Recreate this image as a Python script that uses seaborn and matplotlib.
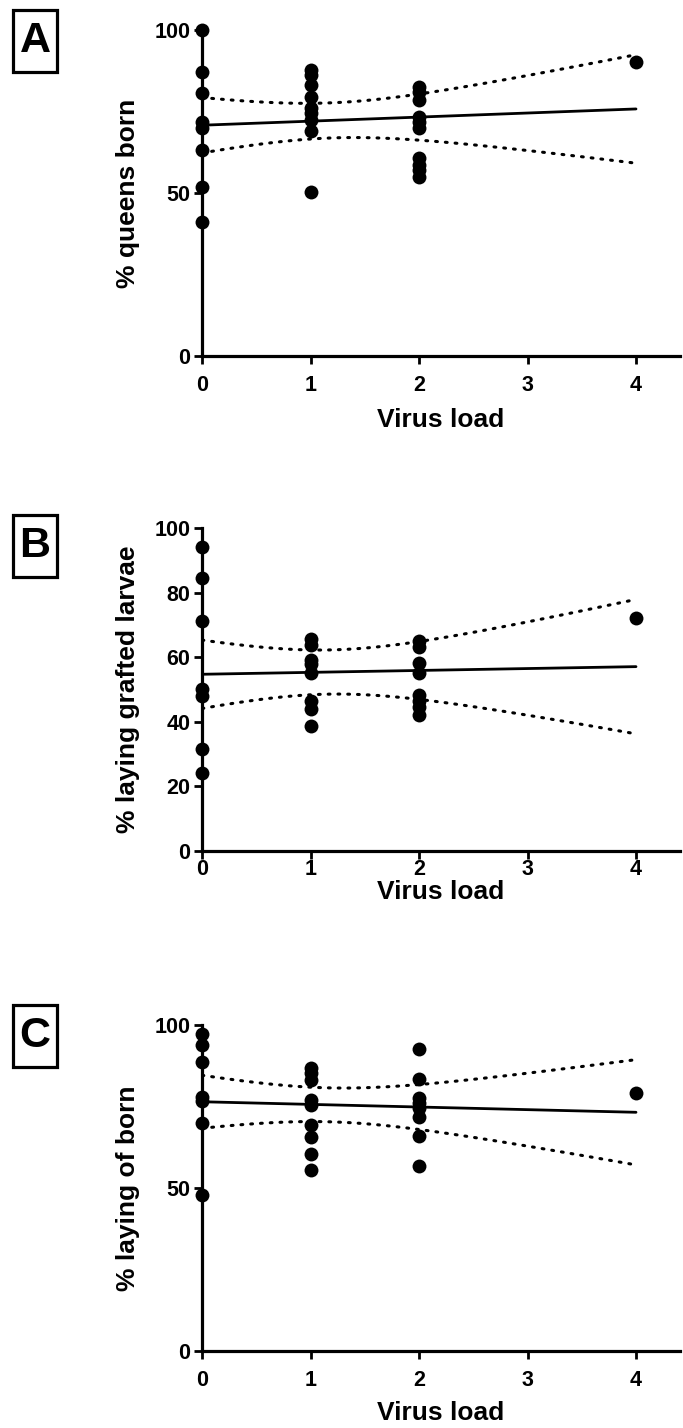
import numpy as np
import pandas as pd
import seaborn as sns
import matplotlib.pyplot as plt
from matplotlib.patches import Rectangle

sns.set_theme(style="ticks")
plt.rcParams['font.family'] = ['Liberation Sans', 'DejaVu Sans']
plt.rcParams['font.weight'] = 'bold'

# Panel A - % queens born
a_x = [0]*8 + [1]*9 + [2]*10 + [4]
a_y = [100, 87.0, 80.6, 71.9, 69.9, 63.2, 51.9, 41.2,
       87.7, 86.2, 83.0, 79.4, 76.1, 74.5, 72.4, 69.0, 50.3,
       82.6, 81.1, 78.5, 73.4, 71.9, 69.9, 60.6, 58.6, 57.1, 55.0,
       90.3]

# Panel B - % laying grafted larvae
b_x = [0]*7 + [1]*8 + [2]*8 + [4]
b_y = [94.0, 84.5, 71.3, 50.2, 47.9, 31.6, 24.3,
       65.6, 63.9, 59.0, 58.0, 55.1, 46.5, 44.0, 38.8,
       64.9, 63.3, 58.2, 55.1, 48.4, 46.5, 44.5, 42.0,
       72.1]

# Panel C - % laying of born
c_x = [0]*7 + [1]*9 + [2]*8 + [4]
c_y = [97.1, 94.0, 88.8, 77.8, 76.6, 70.0, 47.9,
       86.7, 85.2, 83.1, 77.0, 75.5, 69.3, 65.7, 60.4, 55.5,
       92.6, 83.3, 77.5, 76.0, 74.4, 71.9, 65.9, 56.8,
       79.0]

# letter, x, y, y label, y ticks, top px, bottom px, box top px, tick pad, label pad
panels = [
    ("A", a_x, a_y, "% queens born", [0, 50, 100], 30, 356, 10, 8, 8.5),
    ("B", b_x, b_y, "% laying grafted larvae", [0, 20, 40, 60, 80, 100], 528, 851, 515, 0.5, 0),
    ("C", c_x, c_y, "% laying of born", [0, 50, 100], 1025, 1351, 1005, 8, 7.5),
]

# two-sided 95% t quantiles for df = n - 2
t_crit = {26: 2.056, 22: 2.074, 23: 2.069}

W, H = 683, 1428
fig = plt.figure(figsize=(W / 100, H / 100), dpi=100)

left, right = 202, 680
for letter, xs, ys, ylab, yticks, top, bot, box_top, tpad, lpad in panels:
    ax = fig.add_axes([left / W, 1 - bot / H, (right - left) / W, (bot - top) / H])
    df = pd.DataFrame({"x": xs, "y": ys})

    # linear regression with 95% confidence band
    x = np.array(xs, float)
    y = np.array(ys, float)
    n = len(x)
    slope, icpt = np.polyfit(x, y, 1)
    resid = y - (icpt + slope * x)
    s = np.sqrt((resid ** 2).sum() / (n - 2))
    sxx = ((x - x.mean()) ** 2).sum()
    grid = np.linspace(0, 4, 81)
    fit = icpt + slope * grid
    half = t_crit[n - 2] * s * np.sqrt(1 / n + (grid - x.mean()) ** 2 / sxx)

    sns.lineplot(x=grid, y=fit, ax=ax, color="black", lw=2.0)
    for band in (fit + half, fit - half):
        sns.lineplot(x=grid, y=band, ax=ax, color="black", lw=2.2,
                     linestyle=(0, (0.6, 2.6)), dash_capstyle="round")

    sns.scatterplot(data=df, x="x", y="y", ax=ax, color="black", s=100,
                    edgecolor="black", linewidth=0, clip_on=False, zorder=5)

    ax.set_xlim(0, (right - left) / ((636 - 202) / 4))
    ax.set_ylim(0, 100)
    ax.set_xticks([0, 1, 2, 3, 4])
    ax.set_yticks(yticks)
    sns.despine(ax=ax)
    for sp in ("left", "bottom"):
        ax.spines[sp].set_linewidth(2.3)
        ax.spines[sp].set_color("black")
    ax.tick_params(axis="both", length=5.5, width=2.0, color="black",
                   labelsize=15.5, labelcolor="black")
    ax.tick_params(axis="y", pad=3)
    ax.tick_params(axis="x", pad=tpad)
    for lab in ax.get_xticklabels() + ax.get_yticklabels():
        lab.set_fontweight("bold")

    ax.set_ylabel(ylab, fontsize=19, fontweight="bold", color="black")
    ax.yaxis.set_label_coords(-0.13, 0.5)
    ax.set_xlabel("Virus load", fontsize=19, fontweight="bold", color="black", labelpad=lpad)

    # boxed panel letter
    bx0, bx1, by0, by1 = 13, 57, box_top, box_top + 62
    fig.add_artist(Rectangle((bx0 / W, 1 - by1 / H), (bx1 - bx0) / W, (by1 - by0) / H,
                             transform=fig.transFigure, fill=False, lw=2.3,
                             edgecolor="black"))
    fig.text((bx0 + bx1) / 2 / W, 1 - (by0 + by1) / 2 / H, letter, fontsize=31,
             fontweight="bold", ha="center", va="center", color="black")

fig.savefig("out.png", dpi=100)
